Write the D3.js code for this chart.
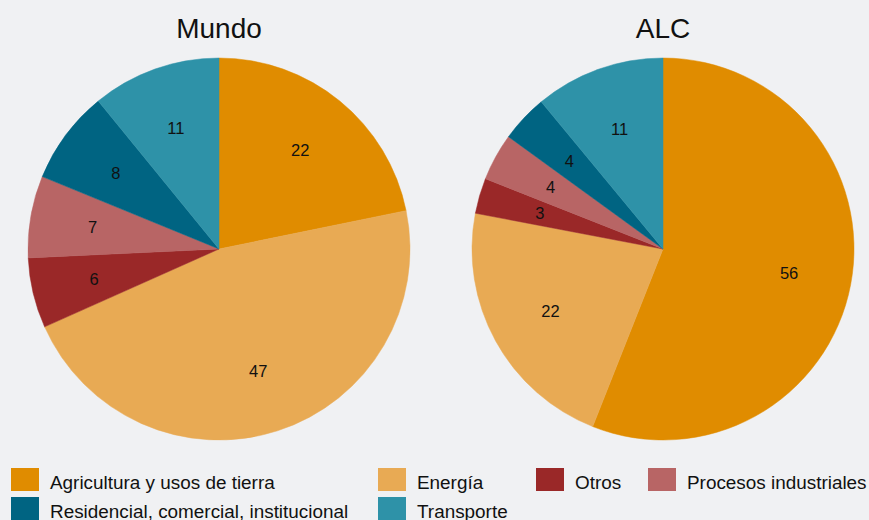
<!DOCTYPE html>
<html>
<head>
<meta charset="utf-8">
<script src="https://cdn.jsdelivr.net/npm/d3@7/dist/d3.min.js"></script>
<style>
  html, body { margin: 0; padding: 0; background: #f0f1f3; }
  svg { display: block; font-family: "Liberation Sans", Arial, sans-serif; }
</style>
</head>
<body>
<svg id="chart" width="869" height="520"></svg>
<script>
// Emission shares by sector (%)
const categories = ["Agricultura y usos de tierra", "Energía", "Otros", "Procesos industriales", "Residencial, comercial, institucional", "Transporte"];
const colors = ["#e08c00", "#e8aa54", "#9a2828", "#b86565", "#006482", "#2e92a8"];
const mundoValues = [22, 47, 6, 7, 8, 11];
const alcValues = [56, 22, 3, 4, 4, 11];
const titles = ["Mundo", "ALC"];

const svg = d3.select("#chart");

const color = d3.scaleOrdinal().domain(categories).range(colors);
const radius = 191;
const cx = d3.scalePoint().domain(titles).range([219, 663]);
const cy = 249;

const pie = d3.pie().sort(null).value(d => d.value);
const arc = d3.arc().innerRadius(0).outerRadius(radius);
const labelR = radius * 0.672;
const labelArc = d3.arc().innerRadius(labelR).outerRadius(labelR);

[[titles[0], mundoValues], [titles[1], alcValues]].forEach(([title, values]) => {
  const data = categories.map((c, i) => ({ cat: c, value: values[i] }));
  const g = svg.append("g").attr("transform", `translate(${cx(title)},${cy})`);

  g.selectAll("path").data(pie(data)).join("path")
    .attr("d", arc)
    .attr("fill", d => color(d.data.cat))
    .attr("stroke", d => color(d.data.cat))
    .attr("stroke-width", 0.5);

  g.selectAll("text.val").data(pie(data)).join("text")
    .attr("class", "val")
    .attr("transform", d => `translate(${labelArc.centroid(d)})`)
    .attr("text-anchor", "middle")
    .attr("dy", "0.38em")
    .attr("font-size", 16.5)
    .attr("fill", "#111")
    .text(d => d.data.value);

  svg.append("text")
    .attr("x", cx(title))
    .attr("y", 37.5)
    .attr("text-anchor", "middle")
    .attr("font-size", 28)
    .attr("fill", "#111")
    .text(title);
});

// Legend: two rows, four columns
const legendPos = [
  [11, 468], [378, 468], [536, 468], [648, 468],
  [11, 497], [378, 497]
];
const lg = svg.append("g");
categories.forEach((cat, k) => {
  const [x, y] = legendPos[k];
  lg.append("rect").attr("x", x).attr("y", y).attr("width", 28).attr("height", 23)
    .attr("fill", color(cat));
  lg.append("text").attr("x", x + 39).attr("y", y + 20.5)
    .attr("font-size", 18.9).attr("fill", "#111").text(cat);
});
</script>
</body>
</html>
